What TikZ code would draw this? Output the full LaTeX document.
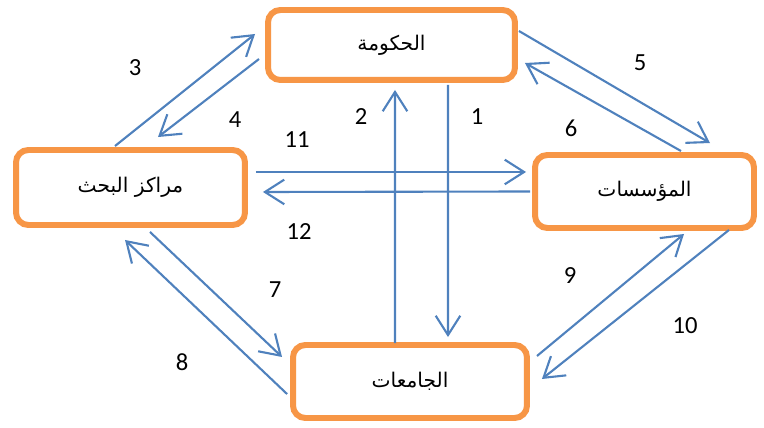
\documentclass[tikz,border=0pt]{standalone}
\usepackage{fontspec}
\setmainfont{Carlito}
\newfontfamily\arabicfont[Script=Arabic]{DejaVu Sans}
\TeXXeTstate=1
\usetikzlibrary{arrows.meta,calc}
\definecolor{boxorange}{RGB}{247,150,70}
\definecolor{linkblue}{RGB}{79,129,189}

\begin{document}
\begin{tikzpicture}[x=0.02cm,y=-0.02cm,%one unit = one pixel of the reference
    party/.style={draw=boxorange,line width=3.4pt,rounded corners=7pt,fill=white,
                  font=\arabicfont\fontsize{11.5}{13}\selectfont,inner sep=0pt},
    link/.style={draw=linkblue,line width=1.2pt,-{Straight Barb[length=11pt,width=14pt]}},%open heads
    num/.style={font=\fontsize{14}{16}\selectfont}
    ]
\useasboundingbox (0,0) rectangle (764,428);
% the four parties
\node[party,minimum width=4.94cm,minimum height=1.40cm] (gov) at (391.5,45) {\beginR الحكومة\endR};
\node[party,minimum width=4.58cm,minimum height=1.50cm] (research) at (130.5,187.5) {\beginR مراكز البحث\endR};
\node[party,minimum width=4.38cm,minimum height=1.46cm] (firms) at (644.5,191.5) {\beginR المؤسسات\endR};
\node[party,minimum width=4.68cm,minimum height=1.46cm] (univ) at (410,381.5) {\beginR الجامعات\endR};
% links
\draw[link] ($(gov.south)+(56.5,2)$) -- ($(univ.north)+(38,-5)$);
\draw[link] ($(univ.north)+(-15,1)$) -- ($(gov.south)+(3.5,7)$);
\draw[link] ($(research.north)+(-15.5,-1)$) -- ($(gov.west)+(-10,-11)$);
\draw[link] ($(gov.west)+(-6,14)$) -- ($(research.north)+(27.5,-10)$);
\draw[link] ($(gov.east)+(1,-14)$) -- ($(firms.north)+(65.5,-9)$);
\draw[link] ($(firms.north)+(36.5,-1)$) -- ($(gov.east)+(7,18)$);
\draw[link] ($(research.east)+(8,-15.5)$) -- ($(firms.west)+(-6,-19.5)$);
\draw[link] ($(firms.west)+(-2,0)$) -- ($(research.east)+(15,4.5)$);
\draw[link] ($(research.south)+(19.5,4)$) -- ($(univ.west)+(-8,-24.5)$);
\draw[link] ($(univ.west)+(-3,12.5)$) -- ($(research.south)+(-5.5,12)$);
\draw[link] ($(univ.east)+(7,-25.5)$) -- ($(firms.south)+(39.5,3)$);
\draw[link] ($(firms.south)+(84.5,-1)$) -- ($(univ.east)+(12,-2.5)$);
% numbers
\node[num] (n1) at (477,117) {1};
\node[num] (n2) at (361,117) {2};
\node[num] (n3) at (135,68) {3};
\node[num] (n4) at (235,120) {4};
\node[num] (n5) at (640,63) {5};
\node[num] (n6) at (571,128) {6};
\node[num] (n7) at (275,290) {7};
\node[num] (n8) at (182,362) {8};
\node[num] (n9) at (570,276) {9};
\node[num] (n10) at (685,326) {10};
\node[num] (n11) at (297,140) {11};
\node[num] (n12) at (299,232) {12};
\end{tikzpicture}
\end{document}
